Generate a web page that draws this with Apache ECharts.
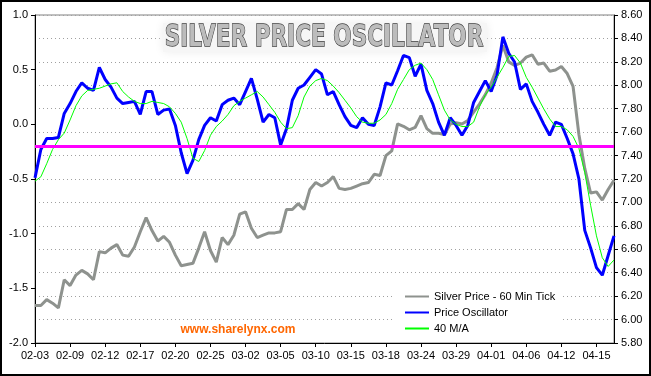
<!DOCTYPE html>
<html>
<head>
<meta charset="utf-8">
<title>Silver Price Oscillator</title>
<script src="https://cdn.jsdelivr.net/npm/echarts@6/dist/echarts.min.js"></script>
<style>
  html, body { margin: 0; padding: 0; background: #fff; }
  #chart { width: 651px; height: 376px; }
</style>
</head>
<body>
<div id="chart"></div>
<script>
// date labels, one every 6 samples
var tickLabels = ["02-03", "02-09", "02-12", "02-17", "02-20", "02-25", "03-02", "03-05",
  "03-10", "03-15", "03-18", "03-24", "03-29", "04-01", "04-06", "04-12", "04-15"];

// silver price (right axis)
var silverPrice = [6.12, 6.12, 6.17, 6.14, 6.10, 6.34, 6.29, 6.38, 6.42, 6.39,
  6.34, 6.58, 6.57, 6.61, 6.64, 6.55, 6.54, 6.62, 6.75, 6.87,
  6.76, 6.67, 6.71, 6.66, 6.55, 6.46, 6.47, 6.48, 6.61, 6.75,
  6.59, 6.49, 6.70, 6.64, 6.72, 6.90, 6.92, 6.78, 6.70, 6.72,
  6.74, 6.74, 6.75, 6.94, 6.94, 6.99, 6.94, 7.11, 7.17, 7.14,
  7.17, 7.22, 7.12, 7.11, 7.12, 7.14, 7.16, 7.17, 7.24, 7.23,
  7.40, 7.44, 7.67, 7.65, 7.62, 7.64, 7.74, 7.63, 7.59, 7.59,
  7.58, 7.67, 7.68, 7.67, 7.70, 7.77, 7.84, 7.92, 8.02, 8.15,
  8.34, 8.20, 8.17, 8.19, 8.24, 8.26, 8.18, 8.19, 8.12, 8.13,
  8.16, 8.10, 7.99, 7.58, 7.29, 7.08, 7.09, 7.02, 7.11, 7.19];

// oscillator (left axis)
var priceOscillator = [-0.49, -0.23, -0.13, -0.13, -0.12, 0.10, 0.19, 0.30, 0.38, 0.33,
  0.31, 0.52, 0.41, 0.34, 0.24, 0.19, 0.20, 0.21, 0.09, 0.30,
  0.30, 0.09, 0.13, 0.14, -0.01, -0.26, -0.45, -0.33, -0.14, -0.01,
  0.06, 0.03, 0.18, 0.22, 0.24, 0.18, 0.30, 0.42, 0.23, 0.02,
  0.09, 0.06, -0.19, -0.04, 0.22, 0.33, 0.36, 0.43, 0.50, 0.46,
  0.27, 0.30, 0.18, 0.07, -0.01, -0.03, 0.06, 0.00, -0.01, 0.16,
  0.38, 0.36, 0.49, 0.63, 0.61, 0.44, 0.55, 0.31, 0.19, 0.02,
  -0.10, 0.06, -0.01, -0.10, -0.01, 0.20, 0.30, 0.40, 0.30, 0.45,
  0.80, 0.65, 0.57, 0.32, 0.37, 0.21, 0.11, 0.00, -0.10, 0.02,
  0.00, -0.13, -0.27, -0.50, -0.97, -1.13, -1.31, -1.38, -1.20, -1.02];

// 40 period moving average of the oscillator
var movingAvg40 = [-0.52, -0.48, -0.36, -0.23, -0.14, -0.08, 0.04, 0.17, 0.26, 0.31,
  0.32, 0.33, 0.35, 0.37, 0.38, 0.30, 0.25, 0.21, 0.19, 0.19,
  0.21, 0.20, 0.19, 0.16, 0.10, 0.02, -0.13, -0.31, -0.34, -0.24,
  -0.10, -0.02, 0.03, 0.09, 0.17, 0.21, 0.24, 0.27, 0.30, 0.25,
  0.18, 0.11, 0.02, -0.04, -0.03, 0.08, 0.25, 0.35, 0.40, 0.42,
  0.40, 0.35, 0.29, 0.22, 0.15, 0.07, 0.02, 0.01, 0.01, 0.04,
  0.09, 0.19, 0.32, 0.41, 0.50, 0.54, 0.56, 0.50, 0.41, 0.27,
  0.13, 0.04, 0.00, -0.02, -0.02, 0.02, 0.16, 0.27, 0.34, 0.43,
  0.52, 0.62, 0.63, 0.56, 0.43, 0.34, 0.24, 0.14, 0.05, -0.02,
  -0.02, -0.05, -0.11, -0.22, -0.44, -0.74, -1.02, -1.22, -1.30, -1.24];

var signalLevel = -0.2;

var categories = silverPrice.map(function (v, i) {
  return i % 6 === 0 ? tickLabels[i / 6] : "";
});

var labelFont = {
  color: "#000",
  fontFamily: "Liberation Sans",
  fontSize: 11,
};

var chart = echarts.init(document.getElementById("chart"), null, { renderer: "canvas" });
var option = {
  animation: false,
  backgroundColor: "#fff",
  grid: {
    left: 35,
    right: 37,
    top: 15,
    bottom: 33,
    show: true,
    borderColor: "#808080",
    borderWidth: 1,
  },
  legend: {
    orient: "vertical",
    left: 392,
    top: 283,
    padding: [8, 6, 6, 12],
    backgroundColor: "#fff",
    itemWidth: 24,
    itemHeight: 11,
    itemGap: 5,
    itemStyle: { opacity: 0 },
    textStyle: labelFont,
    data: ["Silver Price - 60 Min Tick", "Price Oscillator", "40 M/A"],
  },
  graphic: [
    {
      type: "rect",
      shape: { x: 163, y: 23, width: 324, height: 29 },
      style: { fill: "#f6f6f6", shadowBlur: 10, shadowColor: "#ececec" },
      z: 1,
    },
    {
      type: "text",
      x: 324,
      y: 38.5,
      scaleX: 0.72,
      style: {
        text: "SILVER PRICE OSCILLATOR",
        font: "bold 30px 'DejaVu Sans'",
        fill: "#bcbcbc",
        stroke: "#404040",
        lineWidth: 1.4,
        textAlign: "center",
        textVerticalAlign: "middle",
      },
      z: 2,
    },
    {
      type: "text",
      x: 238,
      y: 330,
      style: {
        text: "www.sharelynx.com",
        font: "bold 12px 'Liberation Sans'",
        fill: "#ff6600",
        textAlign: "center",
        textVerticalAlign: "middle",
      },
      z: 2,
    },
    {
      type: "rect",
      shape: { x: 1, y: 1, width: 649, height: 374 },
      style: { fill: "none", stroke: "#000", lineWidth: 2 },
      z: 10,
    },
  ],
  xAxis: {
    type: "category",
    boundaryGap: false,
    data: categories,
    axisLine: { onZero: false, lineStyle: { color: "#000", width: 1 } },
    axisTick: { interval: 5, length: 4, lineStyle: { color: "#000" } },
    axisLabel: Object.assign({ interval: 5, margin: 7 }, labelFont),
    splitLine: { show: false },
  },
  yAxis: [
    {
      type: "value",
      min: -2,
      max: 1,
      interval: 0.5,
      axisLine: { show: true, lineStyle: { color: "#000", width: 1 } },
      axisTick: { show: true, length: 4, lineStyle: { color: "#000" } },
      axisLabel: Object.assign({
        margin: 7,
        formatter: function (v) { return v.toFixed(1); },
      }, labelFont),
      splitLine: { show: false },
    },
    {
      type: "value",
      position: "right",
      min: 5.8,
      max: 8.6,
      interval: 0.2,
      axisLine: { show: true, lineStyle: { color: "#000", width: 1 } },
      axisTick: { show: true, length: 4, lineStyle: { color: "#000" } },
      axisLabel: Object.assign({
        margin: 7,
        formatter: function (v) { return v.toFixed(2); },
      }, labelFont),
      splitLine: { show: true, lineStyle: { color: "#a0a0a0", type: [1, 3], width: 1 } },
    },
  ],
  series: [
    {
      name: "Silver Price - 60 Min Tick",
      type: "line",
      yAxisIndex: 1,
      symbol: "none",
      data: silverPrice,
      lineStyle: { color: "#8e928e", width: 3 },
      itemStyle: { color: "#8e928e" },
      z: 2,
    },
    {
      name: "Price Oscillator",
      type: "line",
      yAxisIndex: 0,
      symbol: "none",
      data: priceOscillator,
      lineStyle: { color: "#0000ff", width: 3 },
      itemStyle: { color: "#0000ff" },
      z: 3,
      markLine: {
        silent: true,
        symbol: "none",
        label: { show: false },
        lineStyle: { color: "#ff00ff", width: 3, type: "solid" },
        data: [{ yAxis: signalLevel }],
      },
    },
    {
      name: "40 M/A",
      type: "line",
      yAxisIndex: 0,
      symbol: "none",
      data: movingAvg40,
      lineStyle: { color: "#00ff00", width: 1 },
      itemStyle: { color: "#00ff00" },
      z: 4,
    },
  ],
};
option && chart.setOption(option);
</script>
</body>
</html>
